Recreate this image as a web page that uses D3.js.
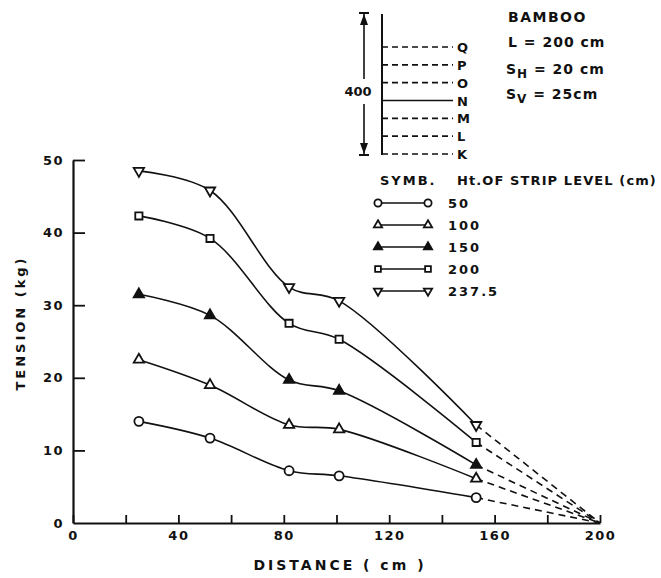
<!DOCTYPE html>
<html>
<head>
<meta charset="utf-8">
<script src="https://cdn.jsdelivr.net/npm/d3@7"></script>
<style>
  body { margin: 0; background: #fff; }
  svg text { font-family: "DejaVu Sans", sans-serif; font-weight: bold; fill: #111; }
</style>
</head>
<body>
<svg id="chart" width="661" height="578"></svg>
<script>
// data
const distance = [25, 52, 82, 101, 153];
const levels = ["50", "100", "150", "200", "237.5"];
const symbols = ["circle", "triangle", "triangleFilled", "square", "triangleDown"];
const tension50 = [14.0, 11.7, 7.2, 6.5, 3.5];
const tension100 = [22.5, 19.0, 13.5, 12.9, 6.1];
const tension150 = [31.5, 28.6, 19.7, 18.2, 8.0];
const tension200 = [42.3, 39.2, 27.5, 25.3, 11.1];
const tension237 = [48.5, 45.8, 32.5, 30.6, 13.5];
const endPoint = [200, 0]; // dashed extrapolation end
const xTicks = [0, 20, 40, 60, 80, 100, 120, 140, 160, 180, 200];
const yTicks = [0, 10, 20, 30, 40, 50];
const stripLabels = ["Q", "P", "O", "N", "M", "L", "K"];

const allSeries = [tension50, tension100, tension150, tension200, tension237];

const svg = d3.select("#chart");
const ink = "#111";

const x = d3.scaleLinear().domain([0, 200]).range([73, 600]);
const y = d3.scaleLinear().domain([0, 50]).range([523, 160]);

// axes
const xAxis = d3.axisBottom(x)
  .tickValues(xTicks)
  .tickSizeInner(-8)
  .tickSizeOuter(0)
  .tickPadding(8)
  .tickFormat(d => d % 40 === 0 ? d : "");

const gx = svg.append("g")
  .attr("transform", "translate(0," + y(0) + ")")
  .call(xAxis);

const yAxis = d3.axisLeft(y)
  .tickValues(yTicks)
  .tickSizeInner(-12)
  .tickSizeOuter(0)
  .tickPadding(9)
  .tickFormat(d => d);

const gy = svg.append("g")
  .attr("transform", "translate(" + x(0) + ",0)")
  .call(yAxis);

[gx, gy].forEach(g => {
  g.select(".domain").attr("stroke", ink).attr("stroke-width", 2.2);
  g.selectAll(".tick line").attr("stroke", ink).attr("stroke-width", 1.8);
  g.selectAll(".tick text").attr("font-size", 13).attr("fill", ink).attr("letter-spacing", 1.5)
    .style("font-family", "DejaVu Sans").style("font-weight", "bold");
});
gy.selectAll(".tick").filter(d => d === 0).select("line").remove();

svg.append("text")
  .attr("x", 340).attr("y", 570)
  .attr("text-anchor", "middle")
  .attr("font-size", 14)
  .attr("letter-spacing", 3)
  .text("DISTANCE ( cm )");

svg.append("text")
  .attr("transform", "translate(25,323) rotate(-90)")
  .attr("text-anchor", "middle")
  .attr("font-size", 13)
  .attr("letter-spacing", 3)
  .text("TENSION (kg)");

// curves
const line = d3.line()
  .x(d => x(d[0]))
  .y(d => y(d[1]))
  .curve(d3.curveCatmullRom.alpha(0.5));

const symbolPath = {
  circle: d3.symbol().type(d3.symbolCircle).size(64),
  triangle: d3.symbol().type(d3.symbolTriangle).size(46),
  triangleFilled: d3.symbol().type(d3.symbolTriangle).size(46),
  square: d3.symbol().type(d3.symbolSquare).size(52),
  triangleDown: d3.symbol().type(d3.symbolTriangle).size(46)
};

function drawMarker(g, type, px, py, k) {
  g.append("path")
    .attr("d", symbolPath[type]())
    .attr("transform", "translate(" + px + "," + py + ")" + (type === "triangleDown" ? " rotate(180)" : "") + " scale(" + (k || 1) + ")")
    .attr("fill", type === "triangleFilled" ? ink : "#fff")
    .attr("stroke", ink)
    .attr("stroke-width", 1.8 / (k || 1));
}

allSeries.forEach((vals, i) => {
  const pts = distance.map((d, j) => [d, vals[j]]);
  svg.append("path")
    .attr("d", line(pts))
    .attr("fill", "none")
    .attr("stroke", ink)
    .attr("stroke-width", 1.6);
  const last = pts[pts.length - 1];
  svg.append("line")
    .attr("x1", x(last[0])).attr("y1", y(last[1]))
    .attr("x2", x(endPoint[0])).attr("y2", y(endPoint[1]))
    .attr("stroke", ink)
    .attr("stroke-width", 1.6)
    .attr("stroke-dasharray", "7,5");
  const mg = svg.append("g");
  pts.forEach(p => drawMarker(mg, symbols[i], x(p[0]), y(p[1])));
});

// legend
svg.append("text").attr("x", 380).attr("y", 185).attr("font-size", 13).attr("letter-spacing", 2).text("SYMB.");
svg.append("text").attr("x", 457).attr("y", 185).attr("font-size", 13).attr("letter-spacing", 1.1).text("Ht.OF STRIP LEVEL (cm)");
const legendY = d3.scalePoint().domain(levels).range([203, 291]);
levels.forEach((lv, i) => {
  const ly = legendY(lv);
  svg.append("line").attr("x1", 378).attr("x2", 428).attr("y1", ly).attr("y2", ly)
    .attr("stroke", ink).attr("stroke-width", 1.6);
  const lg = svg.append("g");
  drawMarker(lg, symbols[i], 378, ly, 0.8);
  drawMarker(lg, symbols[i], 428, ly, 0.8);
  svg.append("text").attr("x", 448).attr("y", ly + 5).attr("font-size", 13).attr("letter-spacing", 2).text(lv);
});

// strip diagram (top)
const strip = svg.append("g");
const stripY = d3.scalePoint().domain(stripLabels).range([47, 154]);
strip.append("line").attr("x1", 382).attr("x2", 382).attr("y1", 14).attr("y2", 155)
  .attr("stroke", ink).attr("stroke-width", 2);
stripLabels.forEach(s => {
  const sy = stripY(s);
  strip.append("line").attr("x1", 382).attr("x2", 453).attr("y1", sy).attr("y2", sy)
    .attr("stroke", ink).attr("stroke-width", 1.6)
    .attr("stroke-dasharray", s === "N" ? null : "6,4");
  strip.append("text").attr("x", 457).attr("y", sy + 5).attr("font-size", 13).text(s);
});
// dimension arrow
strip.append("line").attr("x1", 364).attr("x2", 364).attr("y1", 14).attr("y2", 79)
  .attr("stroke", ink).attr("stroke-width", 1.6);
strip.append("line").attr("x1", 364).attr("x2", 364).attr("y1", 104).attr("y2", 155)
  .attr("stroke", ink).attr("stroke-width", 1.6);
[13, 155].forEach(by => strip.append("line").attr("x1", 359).attr("x2", 369).attr("y1", by).attr("y2", by)
  .attr("stroke", ink).attr("stroke-width", 2));
strip.append("path").attr("d", "M364,14 L360,25 L368,25 Z").attr("fill", ink);
strip.append("path").attr("d", "M364,154 L360,143 L368,143 Z").attr("fill", ink);
strip.append("text").attr("x", 358).attr("y", 96).attr("text-anchor", "middle").attr("font-size", 13).text("400");

// properties text
svg.append("text").attr("x", 508).attr("y", 22).attr("font-size", 14).attr("letter-spacing", 1.5).text("BAMBOO");
svg.append("text").attr("x", 508).attr("y", 47).attr("font-size", 14).attr("letter-spacing", 1).text("L = 200 cm");
const sh = svg.append("text").attr("x", 506).attr("y", 74).attr("font-size", 14).attr("letter-spacing", 1);
sh.append("tspan").text("S");
sh.append("tspan").attr("dy", 4).attr("font-size", 12).text("H");
sh.append("tspan").attr("dy", -4).text(" = 20 cm");
const sv = svg.append("text").attr("x", 506).attr("y", 99).attr("font-size", 14).attr("letter-spacing", 1);
sv.append("tspan").text("S");
sv.append("tspan").attr("dy", 4).attr("font-size", 12).text("V");
sv.append("tspan").attr("dy", -4).text(" = 25cm");
</script>
</body>
</html>
